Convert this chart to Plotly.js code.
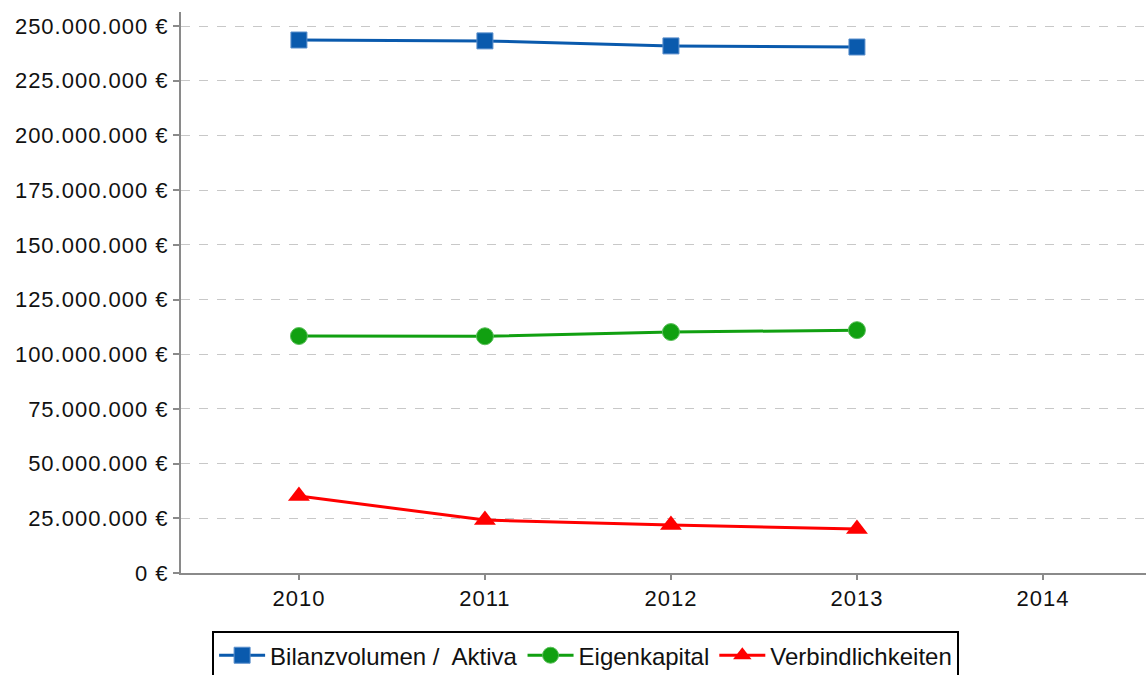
<!DOCTYPE html>
<html>
<head>
<meta charset="utf-8">
<script src="https://cdn.plot.ly/plotly-3.0.1.min.js"></script>
<style>
html,body{margin:0;padding:0;background:#fff;}
#chart{width:1146px;height:675px;}
#chart .xtick text, #chart .ytick text {letter-spacing: 1px;}
</style>
</head>
<body>
<div id="chart"></div>
<script>
const years = [2010, 2011, 2012, 2013];
const bilanzvolumen = [243600000, 243200000, 240900000, 240400000];
const eigenkapital = [108300000, 108200000, 110100000, 111000000];
const verbindlichkeiten = [35200000, 24200000, 21900000, 20100000];
const seriesNames = ["Bilanzvolumen /  Aktiva", "Eigenkapital", "Verbindlichkeiten"];
const yTickVals = [0, 25000000, 50000000, 75000000, 100000000, 125000000, 150000000, 175000000, 200000000, 225000000, 250000000];
const yTickLabels = ["0 €", "25.000.000 €", "50.000.000 €", "75.000.000 €", "100.000.000 €", "125.000.000 €",
  "150.000.000 €", "175.000.000 €", "200.000.000 €", "225.000.000 €", "250.000.000 €"];
const xTickVals = [2010, 2011, 2012, 2013, 2014];

const font = {family: "Liberation Sans, Arial, sans-serif", size: 22, color: "#111"};

const traces = [
  {x: years, y: bilanzvolumen, name: seriesNames[0], mode: "lines+markers", type: "scatter",
   line: {color: "#0a5aad", width: 3},
   marker: {symbol: "square", size: 16, color: "#0a5aad", line: {color: "#5b8fcc", width: 1}}},
  {x: years, y: eigenkapital, name: seriesNames[1], mode: "lines+markers", type: "scatter",
   line: {color: "#11a011", width: 3},
   marker: {symbol: "circle", size: 17, color: "#11a011", line: {color: "#5cc05c", width: 1}}},
  {x: years, y: verbindlichkeiten, name: seriesNames[2], mode: "lines+markers", type: "scatter",
   line: {color: "#ff0000", width: 3},
   marker: {symbol: "triangle-up", size: 19, color: "#ff0000", line: {color: "#ff0000", width: 0}}}
];

const layout = {
  width: 1146, height: 675,
  margin: {l: 181, r: 0, t: 12, b: 102, autoexpand: false},
  paper_bgcolor: "#fff", plot_bgcolor: "#fff",
  font: font,
  showlegend: true,
  xaxis: {
    range: [2009.366, 2014.554],
    tickvals: xTickVals,
    showgrid: false, zeroline: false,
    showline: true, linecolor: "#8a8a8a", linewidth: 2,
    ticks: "outside", ticklen: 5, tickcolor: "#8a8a8a", tickwidth: 2,
    tickfont: font
  },
  yaxis: {
    range: [0, 256400000],
    tickvals: yTickVals,
    ticktext: yTickLabels,
    showgrid: true, gridcolor: "#c8c8c8", griddash: "dash", gridwidth: 1,
    zeroline: false,
    showline: true, linecolor: "#8a8a8a", linewidth: 2,
    ticks: "outside", ticklen: 6, tickcolor: "#8a8a8a", tickwidth: 2,
    tickfont: font
  },
  legend: {
    orientation: "h", xref: "container", x: 0.511, xanchor: "center",
    yref: "container", y: 0.065, yanchor: "top",
    bordercolor: "#000", borderwidth: 2, bgcolor: "#fff",
    font: {family: "Liberation Sans, Arial, sans-serif", size: 24, color: "#111"},
    itemwidth: 46
  }
};

Plotly.newPlot("chart", traces, layout, {displayModeBar: false, staticPlot: true});
</script>
</body>
</html>
